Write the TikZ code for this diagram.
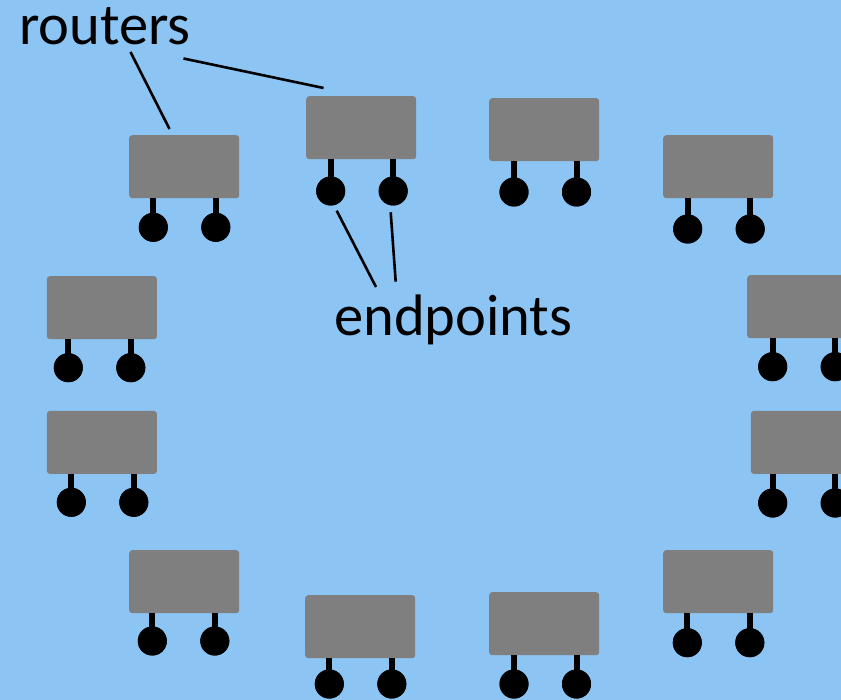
\documentclass[tikz,border=0pt]{standalone}
\usepackage{fontspec}
\setmainfont{Carlito}
\definecolor{skyback}{RGB}{140,196,243}
\definecolor{routergrey}{RGB}{127,127,127}
\begin{document}
\begin{tikzpicture}[x=1pt,y=-1pt,
  routerbox/.style={fill=routergrey, rounded corners=3pt, draw=none, inner sep=0pt,
    minimum width=110pt, minimum height=63pt, anchor=north west},
  endpt/.style={circle, fill=black, inner sep=0pt, minimum size=29pt},
  stem/.style={line width=6pt},
  leader/.style={line width=2.6pt},
  caption/.style={font=\fontsize{58.5}{62}\selectfont, inner sep=0pt, anchor=base west}]
\clip (0,0) rectangle (841,700);
\fill[skyback] (0,0) rectangle (841,700);
\useasboundingbox (0,0) rectangle (841,700);

% routers: name / top-left corner / first endpoint x / endpoint centre y
\foreach \n/\bx/\by/\ex/\ey in {
   r1/129/135/153.3/227.3,
   r2/306/96/330.7/191,
   r3/489/98/514/192,
   r4/663/135/687.7/229,
   r5/46.7/276/68.3/367.7,
   r6/747/275/772.7/366.7,
   r7/46.7/410.7/71.3/502.3,
   r8/750.7/410.7/772.7/503,
   r9/129/550/152.3/641,
   r10/305/595/329.3/684,
   r11/489/592/514/684,
   r12/663/550/687.3/642.7}{
  \node[routerbox] (\n) at (\bx,\by) {};
  \node[endpt] (\n a) at (\ex,\ey) {};
  \node[endpt] (\n b) at (\ex+62.5,\ey) {};
  \draw[stem] (\n a.center) -- (\n a.center |- \n.south);
  \draw[stem] (\n b.center) -- (\n b.center |- \n.south);
  \node[endpt] at (\n a) {};
  \node[endpt] at (\n b) {};
}

% labels
\node[caption] (routers) at (19,44.5) {routers};
\node[caption] (endpoints) at (334,335.5) {endpoints};

% leader lines
\coordinate (rt1) at (130.5,52);
\coordinate (rt2) at (183.5,58.5);
\coordinate (r1tip) at (169.5,129);
\coordinate (r2tip) at (323.5,88);
\draw[leader] (rt1) -- (r1tip);
\draw[leader] (rt2) -- (r2tip);

\coordinate (ep1) at (376,287);
\coordinate (ep2) at (395.7,281.7);
\coordinate (e1tip) at (336.7,210.7);
\coordinate (e2tip) at (390.7,212.3);
\draw[leader] (ep1) -- (e1tip);
\draw[leader] (ep2) -- (e2tip);
\end{tikzpicture}
\end{document}
